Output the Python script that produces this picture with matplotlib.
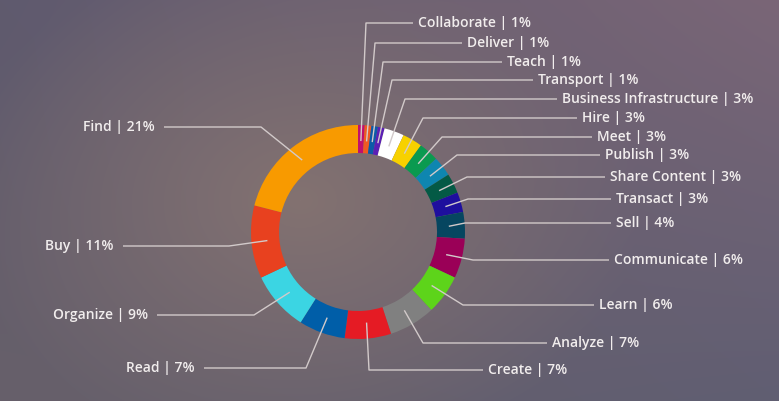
import numpy as np
import matplotlib
matplotlib.use("Agg")
import matplotlib.pyplot as plt

W, H = 779, 401

# ---- data ----
categories = ["Collaborate", "Deliver", "Teach", "Transport", "Business Infrastructure",
              "Hire", "Meet", "Publish", "Share Content", "Transact", "Sell",
              "Communicate", "Learn", "Analyze", "Create", "Read", "Organize", "Buy", "Find"]
values = [1, 1, 1, 1, 3, 3, 3, 3, 3, 3, 4, 6, 6, 7, 7, 7, 9, 11, 21]
colors = ["#c0106e", "#f05a22", "#0d5aa7", "#5b1fb5", "#ffffff",
          "#f7d100", "#0a9a50", "#0e86b0", "#045a45", "#1e0f9e", "#064660",
          "#9a0057", "#5dd41a", "#808080", "#e51b24", "#005ea8", "#3bd5e3", "#e8411f", "#f89a00"]

# ---- label layout (pixels from top-left) ----
label_y = [23, 43, 62, 80, 99, 118, 137, 155, 177, 199, 223, 260, 305, 343, 370, 368, 315, 246, 127]
elbow_x = [366, 375, 383, 392, 405, 423, 442, 457, 467, 468, 465, 473, 463, 423, 369, 306, 254, 229, 261]
end_x = [413, 462, 502, 533, 557, 577, 592, 600, 605, 611, 611, 609, 594, 547, 483, 204, 157, 123, 164]
side = ["r"] * 15 + ["l"] * 4

cx, cy_px, R, ring = 358, 232, 107, 28
cy = H - cy_px

fig = plt.figure(figsize=(W / 100, H / 100), dpi=100)
ax = fig.add_axes([0, 0, 1, 1])

# background gradient
yy, xx = np.mgrid[0:H, 0:W]
u = xx / (W - 1)
v = yy / (H - 1)
tl = np.array([0x5f, 0x5a, 0x6e]) / 255
tr = np.array([0x7a, 0x66, 0x77]) / 255
bl = np.array([0x67, 0x60, 0x6a]) / 255
br = np.array([0x60, 0x5e, 0x72]) / 255
bg = ((1 - u)[..., None] * (1 - v)[..., None] * tl + u[..., None] * (1 - v)[..., None] * tr
      + (1 - u)[..., None] * v[..., None] * bl + u[..., None] * v[..., None] * br)
warm = np.array([0x83, 0x72, 0x71]) / 255
d = np.sqrt(((xx - 300) / 340) ** 2 + ((yy - 200) / 260) ** 2)
wgt = np.clip(1 - d, 0, 1) ** 1.0
bg = bg * (1 - wgt[..., None]) + warm * wgt[..., None]
ax.imshow(bg, extent=[0, W, 0, H], origin="upper", zorder=0, aspect="auto")

ax.pie(values, colors=colors, startangle=90, counterclock=False, radius=R,
       center=(cx, cy), frame=True,
       wedgeprops=dict(width=ring, linewidth=0, antialiased=True))

ax.set_xlim(0, W)
ax.set_ylim(0, H)
ax.set_aspect("equal")
ax.axis("off")

line_c = "#d2caca"
text_c = "#f1eded"
total = float(sum(values))
cum = 0.0
rmid = R - ring / 2 - 2
for i, (cat, val) in enumerate(zip(categories, values)):
    mid = cum + val / 2
    cum += val
    th = np.deg2rad(90 - 360 * mid / total)
    sx, sy = cx + rmid * np.cos(th), cy + rmid * np.sin(th)
    ly = H - label_y[i]
    ax.plot([sx, elbow_x[i], end_x[i]], [sy, ly, ly], color=line_c, lw=1.0,
            solid_capstyle="butt", zorder=3)
    txt = f"{cat} | {val}%"
    if side[i] == "r":
        ax.text(end_x[i] + 5, ly, txt, ha="left", va="center", color=text_c,
                fontsize=10, family=["Open Sans", "DejaVu Sans"], weight="semibold", zorder=4)
    else:
        ax.text(end_x[i] - 9, ly, txt, ha="right", va="center", color=text_c,
                fontsize=10, family=["Open Sans", "DejaVu Sans"], weight="semibold", zorder=4)

fig.savefig("out.png", dpi=100)
